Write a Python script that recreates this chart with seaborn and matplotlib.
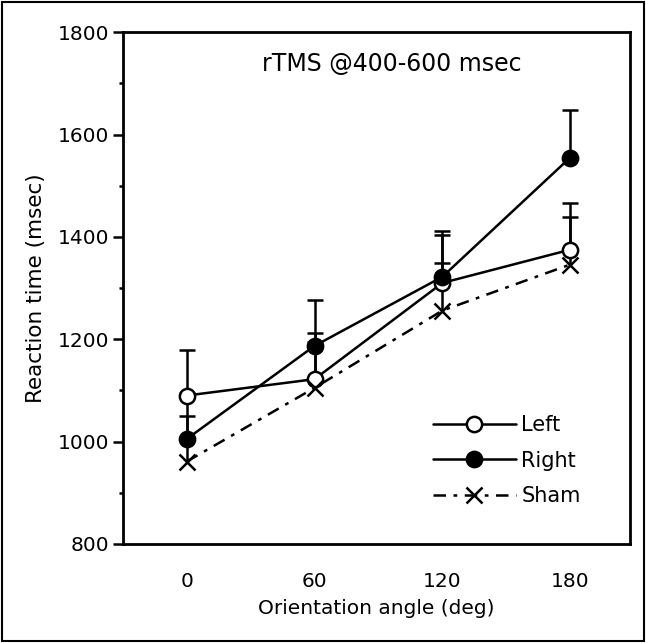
import numpy as np
import pandas as pd
import seaborn as sns
import matplotlib.pyplot as plt
from matplotlib.ticker import MultipleLocator
from matplotlib.patches import Rectangle

# values
angles = [0, 60, 120, 180]
left_rt = [1090, 1122, 1310, 1375]
right_rt = [1005, 1187, 1322, 1555]
sham_rt = [961, 1105, 1256, 1346]
left_err = [89, 90, 93, 92]
right_err = [90, 90, 90, 92]
sham_err = [90, 90, 92, 92]
conditions = ["Left", "Right", "Sham"]

df = pd.DataFrame({
    "angle": angles * 3,
    "rt": left_rt + right_rt + sham_rt,
    "err": left_err + right_err + sham_err,
    "condition": np.repeat(conditions, len(angles)),
})
df["top"] = df["rt"] + df["err"]

sns.set_style("ticks")
plt.rcParams["font.family"] = ["DejaVu Sans"]
plt.rcParams["font.size"] = 14.5
for key in ["text.color", "axes.labelcolor", "xtick.color", "ytick.color", "axes.edgecolor"]:
    plt.rcParams[key] = "black"

fig = plt.figure(figsize=(6.46, 6.43), dpi=100)
ax = fig.add_axes([0.19, 0.154, 0.785, 0.796])

# outer frame round the whole figure
fig.patches.append(Rectangle((0.003, 0.003), 0.994, 0.994, transform=fig.transFigure,
                             fill=False, edgecolor="black", linewidth=1.5))

styles = {
    "Left": dict(marker="o", markerfacecolor="white", linestyle="-"),
    "Right": dict(marker="o", markerfacecolor="black", linestyle="-"),
    "Sham": dict(marker="x", markerfacecolor="black", linestyle=(0, (5, 3, 1.5, 3))),
}
lw = 1.8

for cond in conditions:
    sub = df[df["condition"] == cond]
    # upper-only error bars (stem + cap), behind markers
    ax.vlines(sub["angle"], sub["rt"], sub["top"], color="black", linewidth=lw, zorder=2)
    ax.plot(sub["angle"], sub["top"], linestyle="none", marker="_", markersize=11,
            markeredgewidth=lw, color="black", zorder=2)
    sns.lineplot(data=sub, x="angle", y="rt", ax=ax, color="black", label=cond,
                 linewidth=lw, markersize=11, markeredgecolor="black",
                 markeredgewidth=lw, zorder=3, **styles[cond])

ax.set_xlim(-30, 208)
ax.set_ylim(800, 1800)
ax.set_xticks(angles)
ax.yaxis.set_major_locator(MultipleLocator(200))
ax.yaxis.set_minor_locator(MultipleLocator(100))
ax.tick_params(axis="x", length=0, pad=20, labelsize=14.5)
ax.tick_params(axis="y", which="major", length=7, width=lw, pad=3, labelsize=14.5)
ax.tick_params(axis="y", which="minor", length=3, width=lw)
for s in ax.spines.values():
    s.set_linewidth(2)
    s.set_visible(True)

ax.set_xlabel("Orientation angle (deg)", fontsize=14.5, labelpad=6)
ax.set_ylabel("Reaction time (msec)", fontsize=15.5, labelpad=8)
ax.text(0.53, 0.937, "rTMS @400-600 msec", transform=ax.transAxes,
        ha="center", va="center", fontsize=17)

ax.legend(loc="lower right", bbox_to_anchor=(0.94, 0.037), frameon=False,
          handlelength=4.0, handletextpad=0.25, labelspacing=0.75, fontsize=15)

fig.savefig("out.png", dpi=100)
